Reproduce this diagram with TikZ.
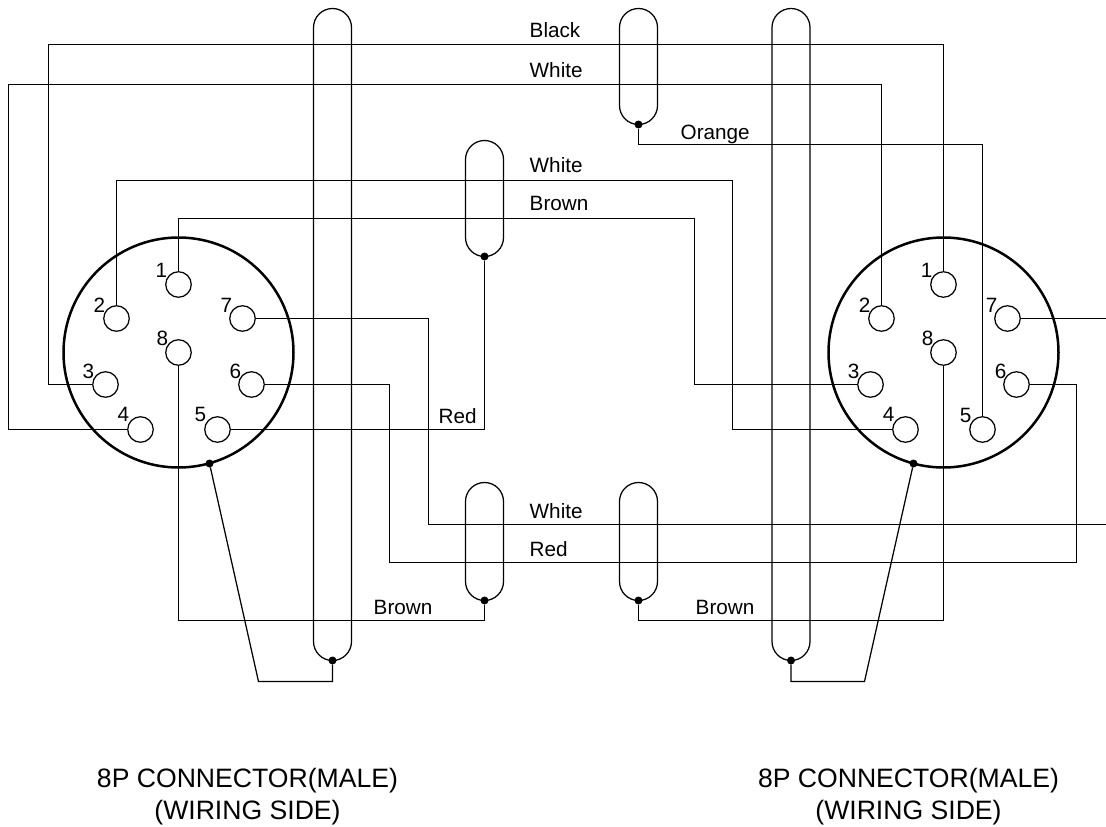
\documentclass[tikz,border=0pt]{standalone}
\usepackage{fontspec}
\setmainfont{Liberation Sans}
\tikzset{
  wire/.style={draw=black,line width=1.25pt,line join=miter},
  ring/.style={circle,draw=black,line width=2.5pt,minimum size=230pt,inner sep=0pt,outer sep=0pt},
  pin/.style={circle,draw=black,line width=1.25pt,minimum size=25.5pt,inner sep=0pt,outer sep=0pt},
  capsule/.style={rectangle,rounded corners=19pt,draw=black,line width=1.25pt,minimum width=38pt,inner sep=0pt,outer sep=0pt},
  dot/.style={circle,fill=black,minimum size=8pt,inner sep=0pt,outer sep=0pt},
  wlabel/.style={anchor=base west,inner sep=0pt,font=\fontsize{20.7}{24}\selectfont},
  pinlabel/.style={inner sep=0pt,font=\fontsize{20.7}{24}\selectfont},
  title/.style={anchor=base,inner sep=0pt,font=\fontsize{26.6}{30}\selectfont}
}
\begin{document}
\begin{tikzpicture}[x=1pt,y=-1pt]
\useasboundingbox (-0.5,-0.5) rectangle (1105.5,826.5);
% connectors
\node[ring] (LC) at (178,352) {};
\node[ring] (RC) at (943,352) {};
% pins
\foreach \n/\x/\y in {1/178/284,2/116/318,7/242/318,8/178/352,3/105/384,6/251/384,4/140/429,5/217/429}{
  \node[pin] (L\n) at (\x,\y) {};
}
\foreach \n/\x/\y in {1/943/284,2/881/318,7/1007/318,8/943/352,3/870/384,6/1016/384,4/905/429,5/982/429}{
  \node[pin] (R\n) at (\x,\y) {};
}
% pin labels
\foreach \n/\x/\y in {1/161/270,2/99/305,7/226/305,8/162/338,3/88/371,6/235/371,4/123/414,5/200/414}{
  \node[pinlabel] (LT\n) at (\x,\y) {\n};
}
\foreach \n/\x/\y in {1/926/270,2/864/305,7/991/305,8/927/338,3/853/371,6/1000/371,4/888/414,5/965/415}{
  \node[pinlabel] (RT\n) at (\x,\y) {\n};
}
% shields
\node[capsule,minimum height=652pt] (SA) at (332,334) {};
\node[capsule,minimum height=116pt] (SB) at (638,66) {};
\node[capsule,minimum height=116pt] (SC) at (484,198) {};
\node[capsule,minimum height=652pt] (SD) at (790.5,334) {};
\node[capsule,minimum height=118pt] (SE) at (484,541) {};
\node[capsule,minimum height=118pt] (SF) at (638,541) {};
% dots
\node[dot] (DA) at (SA.south) {};
\node[dot] (DB) at (SB.south) {};
\node[dot] (DC) at (SC.south) {};
\node[dot] (DD) at (SD.south) {};
\node[dot] (DE) at (SE.south) {};
\node[dot] (DF) at (SF.south) {};
\node[dot] (GL) at (209,463) {};
\node[dot] (GR) at (913,463) {};
\coordinate (EA) at (1106,318);
\coordinate (EB) at (1106,524);
% wires
\draw[wire] (L3.west) -| (48,44) -| (R1.north);
\draw[wire] (L4.west) -| (8,84) -| (R2.north);
\draw[wire] (L2.north) |- (732,180) |- (R4.west);
\draw[wire] (L1.north) |- (694,218) |- (R3.west);
\draw[wire] (L5.east) -| (DC);
\draw[wire] (L7.east) -| (428,524) -- (EB);
\draw[wire] (R7.east) -- (EA);
\draw[wire] (L6.east) -| (389,562) -| (1076,384) -- (R6.east);
\draw[wire] (L8.south) |- (484,620) -- (DE);
\draw[wire] (R8.south) |- (638,620) -- (DF);
\draw[wire] (R5.north) |- (638,144) -- (DB);
\draw[wire] (GL) -- (258,681) -| (DA);
\draw[wire] (GR) -- (864,681) -| (DD);
% labels
\node[wlabel] (T1) at (529,37) {Black};
\node[wlabel] (T2) at (529,77) {White};
\node[wlabel] (T3) at (680,139) {Orange};
\node[wlabel] (T4) at (529,172) {White};
\node[wlabel] (T5) at (529,210) {Brown};
\node[wlabel] (T6) at (438,423) {Red};
\node[wlabel] (T7) at (529,518) {White};
\node[wlabel] (T8) at (529,556) {Red};
\node[wlabel] (T9) at (373,614) {Brown};
\node[wlabel] (T10) at (695,614) {Brown};
\node[title] (TL1) at (247,787) {8P CONNECTOR(MALE)};
\node[title] (TL2) at (247,819) {(WIRING SIDE)};
\node[title] (TR1) at (908,787) {8P CONNECTOR(MALE)};
\node[title] (TR2) at (908,819) {(WIRING SIDE)};
\end{tikzpicture}
\end{document}
